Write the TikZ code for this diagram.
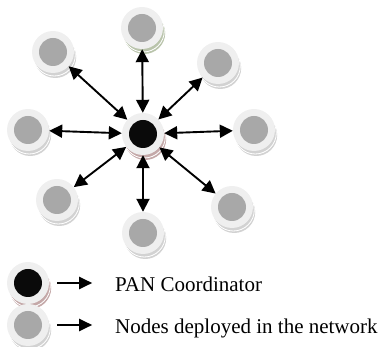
\documentclass[tikz,border=0pt]{standalone}
\usepackage{fontspec}
\setmainfont{Liberation Serif}
\usetikzlibrary{arrows.meta}

\definecolor{ringgray}{HTML}{EFEFEF}
\definecolor{coregray}{HTML}{A8A8A8}
\definecolor{coreblack}{HTML}{0A0A0A}
\definecolor{shadegray}{HTML}{D2D2D2}
\definecolor{shadegreen}{HTML}{B9C4AB}
\definecolor{shadebrown}{HTML}{C4A8A8}

\tikzset{
  link/.style={line width=1.9pt,
    {Triangle[length=13pt,width=13pt]}-{Triangle[length=13pt,width=13pt]}},
  keyarrow/.style={line width=2.2pt, -{Triangle[length=13pt,width=12pt]}},
  legendtext/.style={anchor=base west, inner sep=0pt,
    font=\fontsize{21}{24}\selectfont},
  coin/.style={circle, fill=ringgray, minimum size=42pt, inner sep=0pt}
}

% A device drawn as a stacked coin: shadow, thin white rim, light ring, core.
% #1 node name, #2 position, #3 core colour, #4 shadow colour
\newcommand\drawcoin[4]{%
  \begin{scope}[shift={(#2)}]
    \fill[#4] (2.2,-5) circle (21);
    \draw[white, line width=0.8pt] (1.3,-3) circle (21);
    \node[coin] (#1) at (0,0) {};
    \fill[#3] (0,0) circle (14);
  \end{scope}}

\begin{document}
\begin{tikzpicture}[x=1pt, y=1pt]
  \useasboundingbox (0,0) rectangle (384,-347);

  % network devices
  \drawcoin{pan}{143,-134}{coreblack}{shadebrown}
  \drawcoin{n}{142,-28}{coregray}{shadegreen}
  \drawcoin{ne}{218,-63}{coregray}{shadegray}
  \drawcoin{e}{254,-130}{coregray}{shadegray}
  \drawcoin{se}{232,-207}{coregray}{shadegray}
  \drawcoin{s}{143,-233}{coregray}{shadegray}
  \drawcoin{sw}{57,-200}{coregray}{shadegray}
  \drawcoin{w}{28,-130}{coregray}{shadegray}
  \drawcoin{nw}{53,-52}{coregray}{shadegray}

  % links between the coordinator and each node
  \foreach \dev in {n,ne,e,se,s,sw,w,nw}
    \draw[link] (pan) -- (\dev);

  % legend
  \drawcoin{lpan}{28,-283}{coreblack}{shadebrown}
  \drawcoin{lnode}{28,-325}{coregray}{shadegray}
  \node[legendtext] (tpan) at (115,-292) {PAN Coordinator};
  \node[legendtext] (tnode) at (115,-334) {Nodes deployed in the network};
  \draw[keyarrow] (lpan.east) ++(8,0) -- ++(35,0);
  \draw[keyarrow] (lnode.east) ++(8,0) -- ++(35,0);
\end{tikzpicture}
\end{document}
